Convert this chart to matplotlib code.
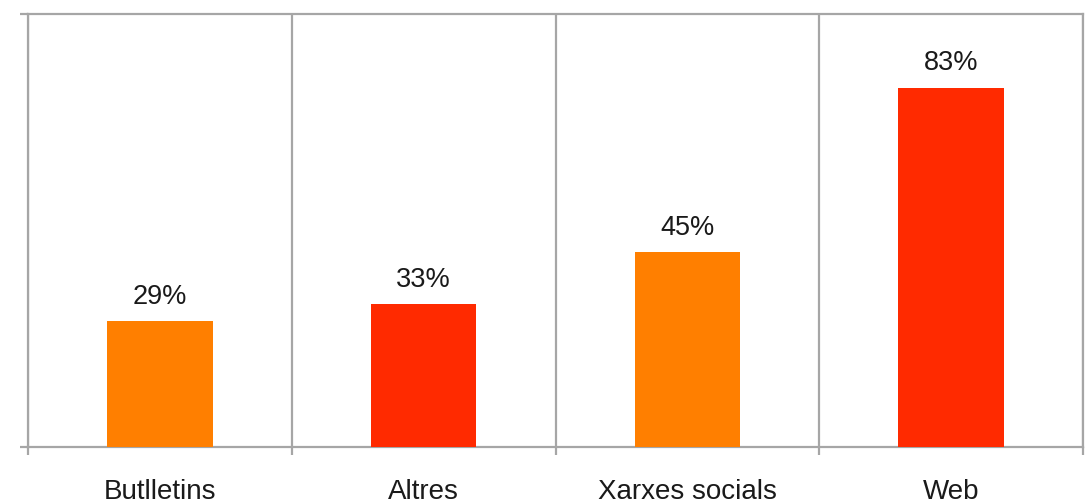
import numpy as np
import matplotlib.pyplot as plt
from matplotlib.ticker import FixedLocator

plt.rcParams['font.family'] = ['Liberation Sans', 'DejaVu Sans']

categories = ['Butlletins', 'Altres', 'Xarxes socials', 'Web']
values = [29, 33, 45, 83]
colors = ['#FF7F00', '#FF2A00', '#FF7F00', '#FF2A00']

W, H = 1088, 501
fig = plt.figure(figsize=(W / 100, H / 100), dpi=100)
ax = fig.add_axes([28 / W, 54 / H, (1083 - 28) / W, (447 - 14) / H])

x = np.arange(len(categories))
bars = ax.bar(x, values, width=0.4, color=colors, zorder=3)

for xi, v in zip(x, values):
    ax.annotate(f'{v}%', (xi, v), xytext=(0, 8), textcoords='offset points',
                ha='center', va='bottom', fontsize=19.5, color='#1a1a1a')

ax.set_xlim(-0.5, len(categories) - 0.5)
ax.set_ylim(0, 100)

grey = '#A6A6A6'
for b in np.arange(-0.5, len(categories), 1.0):
    ax.axvline(b, color=grey, lw=1.6, zorder=1)

for s in ax.spines.values():
    s.set_color(grey)
    s.set_linewidth(1.6)

ax.set_xticks(x)
ax.set_xticklabels(categories, fontsize=20, color='#1a1a1a')
ax.tick_params(axis='x', which='major', length=0, pad=23)
ax.xaxis.set_minor_locator(FixedLocator(np.arange(-0.5, len(categories), 1.0)))
ax.tick_params(axis='x', which='minor', length=6, width=1.6, color=grey, direction='out')

ax.set_yticks([0, 100])
ax.set_yticklabels([])
ax.tick_params(axis='y', length=6, width=1.6, color=grey, direction='out')

fig.savefig('out.png', dpi=100)
